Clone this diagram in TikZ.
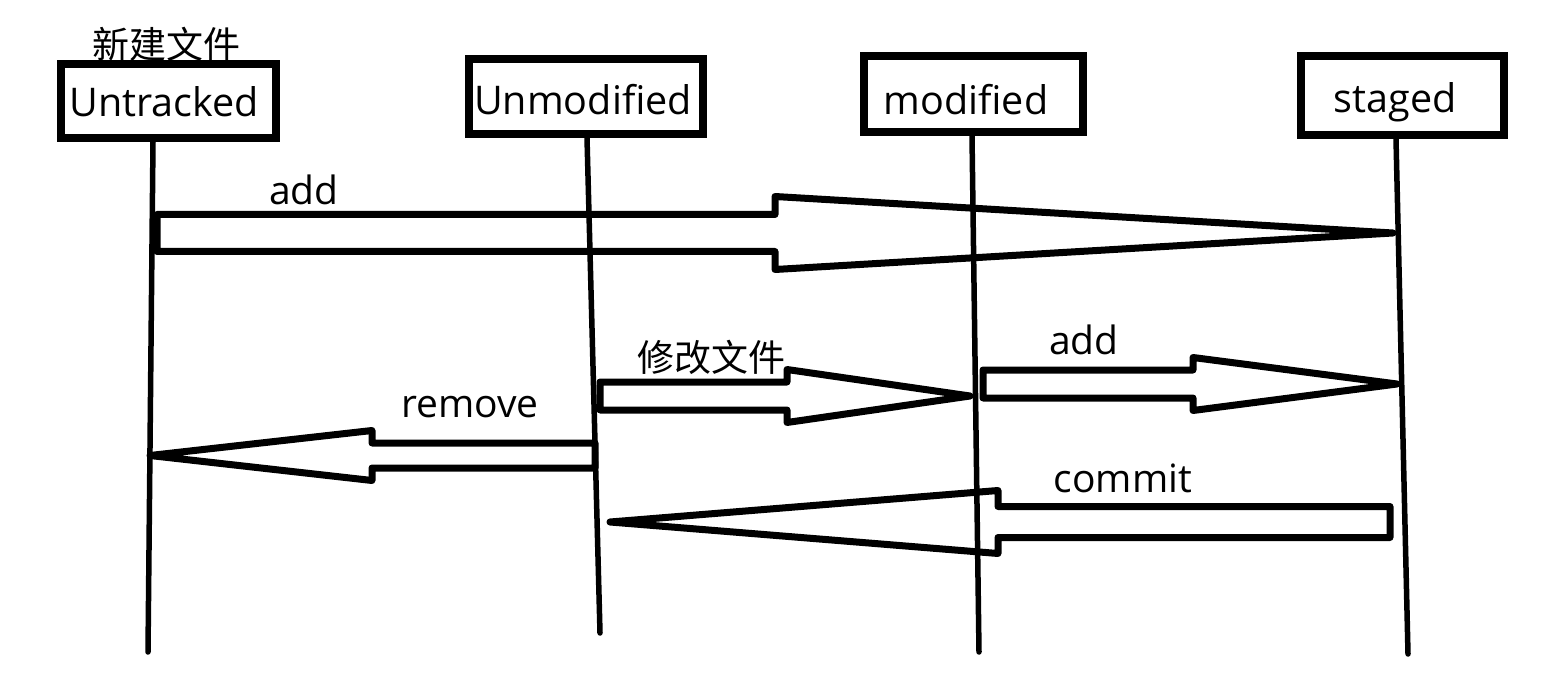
\documentclass[tikz,border=0pt]{standalone}
\usepackage{fontspec}
\setmainfont{Open Sans}
\newfontfamily\cjk{Noto Sans CJK SC}
\usetikzlibrary{calc}
\tikzset{
  box/.style={draw, line width=8pt, inner sep=0pt, text depth=0pt, font=\fontsize{39.5}{42}\selectfont},
  life/.style={line width=5.5pt, line cap=round},
  blk/.style={line width=7pt, line join=round},
  lbl/.style={font=\fontsize{39}{42}\selectfont, inner sep=0pt, anchor=base},
  cjklbl/.style={font=\cjk\fontsize{37}{40}\selectfont, inner sep=0pt}
}
\newcommand\blockarrow[5]{%
  \path coordinate (bh) at ($(#2)!#3!(#1)$);
  \draw[blk] ($(#1)+(0,#4)$) -- ($(bh)+(0,#4)$) -- ($(bh)+(0,#5)$) -- (#2)
    -- ($(bh)+(0,-#5)$) -- ($(bh)+(0,-#4)$) -- ($(#1)+(0,-#4)$) -- cycle;}
\begin{document}
\begin{tikzpicture}[x=1pt,y=-1pt]
\fill[white] (0,0) rectangle (1553,676);
\useasboundingbox (0,0) rectangle (1553,676);

% boxes
\node[box, minimum width=215pt, minimum height=74pt, text height=32pt] (untracked) at (168.5,101) {Untracked\kern9pt};
\node[box, minimum width=234pt, minimum height=75pt, text height=37pt] (unmod) at (586,96.5) {Unmodified\kern6pt};
\node[box, minimum width=219pt, minimum height=76pt, text height=42pt] (mod) at (973.5,94) {modified\kern15pt};
\node[box, minimum width=203pt, minimum height=79pt, text height=35pt] (staged) at (1402.5,95.5) {staged\kern15pt};
\node[cjklbl] (newfile) at (166,44) {新建文件};

% lifelines
\coordinate (utTop) at (153,142);  \coordinate (utBot) at (148,652);
\coordinate (umTop) at (587,138);  \coordinate (umBot) at (600,633);
\coordinate (mdTop) at (972,136);  \coordinate (mdBot) at (979,652);
\coordinate (stTop) at (1396,139); \coordinate (stBot) at (1408,654);
\draw[life] (utTop) -- (utBot);
\draw[life] (umTop) -- (umBot);
\draw[life] (mdTop) -- (mdBot);
\draw[life] (stTop) -- (stBot);

% arrows
\coordinate (addTail) at (157,233);   \coordinate (addTip) at (1393,233);
\blockarrow{addTail}{addTip}{618pt}{18.5}{36.5}
\coordinate (modTail) at (600,396);   \coordinate (modTip) at (970,396);
\blockarrow{modTail}{modTip}{183pt}{14}{26.5}
\coordinate (add2Tail) at (983,384);  \coordinate (add2Tip) at (1397,384);
\blockarrow{add2Tail}{add2Tip}{204pt}{14}{26.5}
\coordinate (remTail) at (595,455.5); \coordinate (remTip) at (150,455.5);
\blockarrow{remTail}{remTip}{222pt}{12.5}{25}
\coordinate (comTail) at (1390,522);  \coordinate (comTip) at (610,522);
\blockarrow{comTail}{comTip}{388pt}{15.5}{31.5}

% labels
\node[lbl] (addLbl) at (304,205) {add};
\node[cjklbl] (modLbl) at (711,357) {修改文件};
\node[lbl] (add2Lbl) at (1084,355) {add};
\node[lbl] (remLbl) at (470,417) {remove};
\node[lbl] (comLbl) at (1123,492) {commit};
\end{tikzpicture}
\end{document}
